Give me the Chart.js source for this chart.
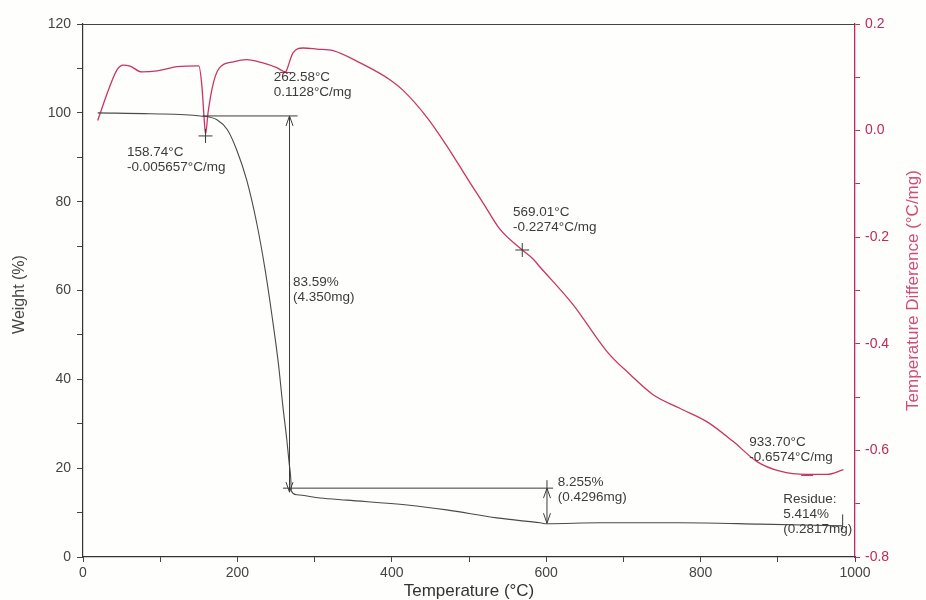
<!DOCTYPE html>
<html lang="en">
<head>
  <meta charset="UTF-8">
  <title>TGA / DTA</title>
  <script src="https://cdn.jsdelivr.net/npm/chart.js"></script>
  <style>
    body { margin: 0; background: #fefefc; }
    #tga { display: block; }
  </style>
  <script>
    addEventListener("DOMContentLoaded", init);

    // TGA curve: temperature (°C) -> weight (%)
    const tgaTemp = [19, 87, 152, 174, 187, 199, 212, 225, 236, 245, 253, 259, 264, 267, 269, 270,
                     277, 307, 342, 420, 471, 536, 592, 601, 670, 773, 877, 984];
    const tgaWeight = [100.0, 99.8, 99.3, 98.4, 96.2, 91.7, 84.9, 75.2, 64.6, 54.1, 43.7, 33.8, 26.4, 21.2, 18.0, 14.8,
                       14.0, 13.3, 12.8, 11.7, 10.6, 8.8, 7.7, 7.5, 7.7, 7.7, 7.4, 7.0];

    // DTA curve: temperature (°C) -> temperature difference (°C/mg)
    const dtaTemp = [19, 35, 44, 52, 61, 76, 96, 122, 150, 154, 157, 158.7, 162, 169, 177, 195, 212, 233, 251,
                     262.6, 264, 272, 285, 303, 324, 359, 398, 415, 446, 471, 501, 518, 540, 569, 583, 592,
                     635, 679, 709, 738, 773, 808, 842, 873, 903, 938, 964, 985];
    const dtaDiff = [0.019, 0.084, 0.114, 0.123, 0.121, 0.110, 0.112, 0.120, 0.1215, 0.084, 0.021, -0.007, 0.034,
                     0.090, 0.118, 0.129, 0.133, 0.127, 0.118, 0.110, 0.114, 0.146, 0.155, 0.153, 0.150, 0.127,
                     0.095, 0.075, 0.024, -0.028, -0.097, -0.135, -0.185, -0.224, -0.241, -0.256, -0.327,
                     -0.415, -0.458, -0.495, -0.521, -0.546, -0.583, -0.621, -0.639, -0.645, -0.645, -0.636];

    // analysis marks, in data units (temperature, weight %)
    const guideLines = [[155, 99.3, 278, 99.3], [259, 15.5, 609, 15.5], [601, 17.3, 601, 15.5], [984, 9.6, 984, 6.2]];
    const arrows = [[267.5, 99.3, 267.5, 14.6], [601, 15.5, 601, 7.6]];
    // peak marks on the DTA curve (temperature, °C/mg)
    const crosses = [[158.7, -0.01], [569, -0.224]];
    const dashes = [[262.6, 0.110], [938, -0.646]];

    // text notes: temperature, weight % of first line
    const notes = [
      { t: 247, w: 108.1, lines: ["262.58°C", "0.1128°C/mg"] },
      { t: 57, w: 91.2, lines: ["158.74°C", "-0.005657°C/mg"] },
      { t: 557, w: 77.7, lines: ["569.01°C", "-0.2274°C/mg"] },
      { t: 272, w: 61.9, lines: ["83.59%", "(4.350mg)"] },
      { t: 615, w: 16.9, lines: ["8.255%", "(0.4296mg)"] },
      { t: 863, w: 25.9, lines: ["933.70°C", "-0.6574°C/mg"] },
      { t: 907, w: 13.1, lines: ["Residue:", "5.414%", "(0.2817mg)"] }
    ];

    const ink = "#3c3c3c";
    const red = "#c2285a";
    const font = "Liberation Sans";

    const annotPlugin = {
      id: "annot",
      afterDatasetsDraw(chart) {
        const ctx = chart.ctx;
        const x = chart.scales.x, y = chart.scales.y, y2 = chart.scales.y2;
        ctx.save();
        ctx.strokeStyle = ink;
        ctx.lineWidth = 1;

        for (const [t1, w1, t2, w2] of guideLines) {
          ctx.beginPath();
          ctx.moveTo(x.getPixelForValue(t1), y.getPixelForValue(w1));
          ctx.lineTo(x.getPixelForValue(t2), y.getPixelForValue(w2));
          ctx.stroke();
        }

        for (const [t1, w1, t2, w2] of arrows) {
          const ax = x.getPixelForValue(t1), ay = y.getPixelForValue(w1);
          const bx = x.getPixelForValue(t2), by = y.getPixelForValue(w2);
          ctx.beginPath();
          ctx.moveTo(ax, ay);
          ctx.lineTo(bx, by);
          // heads at both ends
          ctx.moveTo(ax - 3.5, ay + 10); ctx.lineTo(ax, ay); ctx.lineTo(ax + 3.5, ay + 10);
          ctx.moveTo(bx - 3.5, by - 10); ctx.lineTo(bx, by); ctx.lineTo(bx + 3.5, by - 10);
          ctx.stroke();
        }

        for (const [t, d] of crosses) {
          const cx = x.getPixelForValue(t), cy = y2.getPixelForValue(d);
          ctx.beginPath();
          ctx.moveTo(cx - 7, cy); ctx.lineTo(cx + 7, cy);
          ctx.moveTo(cx, cy - 7); ctx.lineTo(cx, cy + 7);
          ctx.stroke();
        }

        ctx.strokeStyle = red;
        for (const [t, d] of dashes) {
          const cx = x.getPixelForValue(t), cy = y2.getPixelForValue(d);
          ctx.beginPath();
          ctx.moveTo(cx - 6, cy + 0.5); ctx.lineTo(cx + 6, cy + 0.5);
          ctx.stroke();
        }

        ctx.fillStyle = ink;
        ctx.font = "13.5px " + font;
        ctx.textBaseline = "middle";
        ctx.textAlign = "left";
        for (const n of notes) {
          const nx = x.getPixelForValue(n.t);
          let ny = y.getPixelForValue(n.w);
          for (const line of n.lines) {
            ctx.fillText(line, nx, ny);
            ny += 15;
          }
        }

        // top frame line
        const a = chart.chartArea;
        ctx.strokeStyle = "#444";
        ctx.beginPath();
        ctx.moveTo(a.left, a.top + 0.5);
        ctx.lineTo(a.right, a.top + 0.5);
        ctx.stroke();

        // vertical axis titles
        ctx.textAlign = "center";
        ctx.font = "16px " + font;
        ctx.fillStyle = "#444";
        ctx.save();
        ctx.translate(y.left + 20, (a.top + a.bottom) / 2 + 4);
        ctx.rotate(-Math.PI / 2);
        ctx.fillText("Weight (%)", 0, 0);
        ctx.restore();

        ctx.font = "17px " + font;
        ctx.fillStyle = "#d24d76";
        ctx.save();
        ctx.translate(y2.right - 13, (a.top + a.bottom) / 2);
        ctx.rotate(-Math.PI / 2);
        ctx.fillText("Temperature Difference (°C/mg)", 0, 0);
        ctx.restore();

        ctx.restore();
      }
    };

    function init() {
      const ctx = document.getElementById("tga");

      new Chart(ctx, {
        type: "line",
        data: {
          datasets: [{
            label: "Weight",
            data: tgaTemp.map((t, i) => ({ x: t, y: tgaWeight[i] })),
            yAxisID: "y",
            borderColor: "#4a4a4a",
            borderWidth: 1.1,
            pointRadius: 0,
            cubicInterpolationMode: "monotone"
          }, {
            label: "Temperature Difference",
            data: dtaTemp.map((t, i) => ({ x: t, y: dtaDiff[i] })),
            yAxisID: "y2",
            borderColor: "#c8346a",
            borderWidth: 1.3,
            pointRadius: 0,
            cubicInterpolationMode: "monotone"
          }]
        },
        options: {
          responsive: false,
          animation: false,
          devicePixelRatio: 1,
          layout: { padding: { top: 24, left: 0, right: 0, bottom: 0 } },
          plugins: {
            legend: { display: false },
            tooltip: { enabled: false }
          },
          scales: {
            x: {
              type: "linear",
              position: "bottom",
              min: 0,
              max: 1000,
              afterFit: s => { s.height = 43; },
              ticks: {
                stepSize: 100,
                autoSkip: false,
                maxRotation: 0,
                padding: 3,
                color: "#444",
                font: { family: font, size: 14 },
                callback: v => (v % 200 === 0 ? String(v) : "")
              },
              grid: { drawOnChartArea: false, drawTicks: true, tickLength: 5, color: "#444" },
              border: { color: "#333", width: 1.2 },
              title: {
                display: true,
                text: "Temperature (°C)",
                color: "#333",
                padding: { top: 0, bottom: 0 },
                font: { family: font, size: 17, lineHeight: 1 }
              }
            },
            y: {
              type: "linear",
              position: "left",
              min: 0,
              max: 120,
              afterFit: s => { s.width = 83; },
              ticks: {
                stepSize: 10,
                autoSkip: false,
                padding: 6,
                color: "#444",
                font: { family: font, size: 14 },
                callback: v => (v % 20 === 0 ? String(v) : "")
              },
              grid: { drawOnChartArea: false, drawTicks: true, tickLength: 6, color: "#444" },
              border: { color: "#333", width: 1.2 }
            },
            y2: {
              type: "linear",
              position: "right",
              min: -0.8,
              max: 0.2,
              afterFit: s => { s.width = 71; },
              ticks: {
                stepSize: 0.1,
                autoSkip: false,
                padding: 5,
                color: red,
                font: { family: font, size: 14 },
                callback: v => {
                  const k = Math.round(v * 10);
                  return k % 2 === 0 ? (k / 10).toFixed(1) : "";
                }
              },
              grid: { drawOnChartArea: false, drawTicks: true, tickLength: 5, color: red },
              border: { color: red, width: 1.3 }
            }
          }
        },
        plugins: [annotPlugin]
      });
    }
  </script>
</head>
<body>
  <canvas id="tga" width="926" height="600"></canvas>
</body>
</html>
